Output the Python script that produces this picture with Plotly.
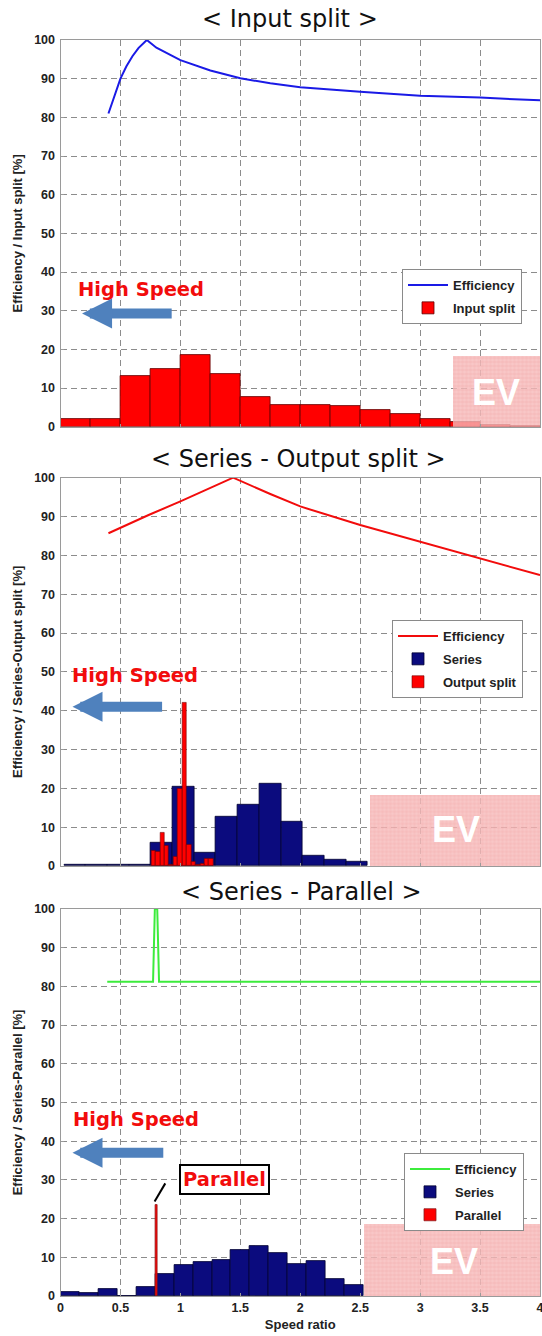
import plotly.graph_objects as go

# ---------------- DATA ----------------
# Panel 1 : Input split
eff1_x = [0.40, 0.45, 0.50, 0.55, 0.60, 0.65, 0.72, 0.80, 0.90, 1.00, 1.25, 1.50, 1.75, 2.00, 2.50, 3.00, 3.50, 4.00]
eff1_y = [81.0, 85.8, 90.0, 93.2, 95.8, 97.9, 100.0, 98.0, 96.3, 94.8, 92.1, 90.1, 88.8, 87.8, 86.6, 85.6, 85.1, 84.4]
input_edges = [0.0, 0.25, 0.5, 0.75, 1.0, 1.25, 1.5, 1.75, 2.0, 2.25, 2.5, 2.75, 3.0, 3.25, 3.5, 3.75, 4.0]
input_vals = [1.9, 2.1, 13.0, 14.8, 18.5, 13.6, 7.6, 5.6, 5.6, 5.3, 4.2, 3.3, 1.9, 1.2, 0.4, 0.1]

# Panel 2 : Series - Output split
eff2_x = [0.40, 0.735, 1.00, 1.44, 1.75, 2.00, 2.50, 3.00, 3.50, 4.00]
eff2_y = [85.7, 90.4, 93.9, 100.0, 95.8, 92.6, 87.8, 83.5, 79.2, 74.9]
series2_edges = [0.03, 0.211, 0.392, 0.573, 0.754, 0.935, 1.116, 1.297, 1.478, 1.659, 1.840, 2.021, 2.202, 2.383, 2.564]
series2_vals = [0.4, 0.4, 0.4, 0.4, 6.0, 20.3, 3.5, 12.6, 15.8, 21.1, 11.3, 2.7, 1.6, 1.2]
outsplit_edges = [0.757, 0.794, 0.831, 0.868, 0.905, 0.942, 0.979, 1.016, 1.053, 1.090, 1.127, 1.164, 1.201, 1.238, 1.275]
outsplit_vals = [4.0, 3.8, 8.5, 5.3, 0.4, 2.3, 20.0, 42.0, 5.4, 1.2, 0.4, 0.5, 1.8, 1.8]

# Panel 3 : Series - Parallel
eff3_x = [0.39, 0.772, 0.787, 0.807, 0.822, 4.0]
eff3_y = [81.2, 81.2, 100.0, 100.0, 81.2, 81.2]
series3_edges = [0.0, 0.158, 0.316, 0.474, 0.632, 0.790, 0.948, 1.106, 1.264, 1.422, 1.580, 1.738, 1.896, 2.054, 2.212, 2.370, 2.528]
series3_vals = [1.0, 0.7, 1.8, 0.0, 2.2, 5.6, 7.9, 8.9, 9.3, 12.0, 12.9, 11.1, 8.3, 9.1, 4.5, 2.9]
parallel_x = [0.80]
parallel_vals = [23.4]

# EV regions (start speed ratio, height) per panel
ev_start = [3.27, 2.58, 2.53]
ev_end = 4.0
ev_height = [18.2, 18.4, 18.5]

titles = ["< Input split >", "< Series - Output split >", "< Series - Parallel >"]
ytitles = ["Efficiency / Input split [%]", "Efficiency / Series-Output split [%]", "Efficiency / Series-Parallel [%]"]
x_ticks = [0, 0.5, 1, 1.5, 2, 2.5, 3, 3.5, 4]
x_ticklabels = ["0", "0.5", "1", "1.5", "2", "2.5", "3", "3.5", "4"]
y_ticks = [0, 10, 20, 30, 40, 50, 60, 70, 80, 90, 100]

# ---------------- FIGURE ----------------
OFF = 0                      # body margin removed by post_script
W, H = 542, 1336
FONT = "Liberation Sans, Arial, sans-serif"
BOLDF = "DejaVu Sans, Verdana, sans-serif"
TITLEF = "DejaVu Sans, Verdana, sans-serif"
RED = "#f20c0c"
NAVY = "#0b0b7e"


def px_x(p):
    return (p - OFF) / W


def px_y(p):
    return 1 - (p - OFF) / H


def centers(edges):
    return [(edges[i] + edges[i + 1]) / 2 for i in range(len(edges) - 1)]


def widths(edges):
    return [edges[i + 1] - edges[i] for i in range(len(edges) - 1)]


fig = go.Figure()

# pixel geometry (screen px) of the three plot areas (top, bottom)
panels = [(40.0, 426.7), (477.7, 866.0), (909.0, 1296.0)]
x_dom = [px_x(60.5), min(1.0, px_x(540.0))]


def ax(i):
    return ("x" if i == 0 else f"x{i+1}", "y" if i == 0 else f"y{i+1}")


def ev_bar(i):
    xa, ya = ax(i)
    return go.Bar(x=[(ev_start[i] + ev_end) / 2], y=[ev_height[i]], width=[ev_end - ev_start[i]],
                  marker=dict(color="rgba(246,185,185,0.8)", line=dict(width=0),
                              pattern=dict(shape="+", size=4, solidity=0.25,
                                           fgcolor="rgba(232,115,115,0.6)", fillmode="overlay")),
                  showlegend=False, hoverinfo="skip", xaxis=xa, yaxis=ya)


# Panel 1
fig.add_trace(go.Scatter(x=eff1_x, y=eff1_y, mode="lines", line=dict(color="#1a1ae6", width=2),
                         name="Efficiency", legend="legend", legendgroup="a1", xaxis="x", yaxis="y"))
fig.add_trace(go.Bar(x=centers(input_edges), y=input_vals, width=widths(input_edges),
                     marker=dict(color="#ff0000", line=dict(color="#600000", width=0.8)),
                     name="Input split", legend="legend", legendgroup="b1", xaxis="x", yaxis="y"))
fig.add_trace(ev_bar(0))

# Panel 2
fig.add_trace(go.Scatter(x=eff2_x, y=eff2_y, mode="lines", line=dict(color=RED, width=2),
                         name="Efficiency", legend="legend2", legendgroup="a2", xaxis="x2", yaxis="y2"))
fig.add_trace(go.Bar(x=centers(series2_edges), y=series2_vals, width=widths(series2_edges),
                     marker=dict(color=NAVY, line=dict(color="#000030", width=0.8)),
                     name="Series", legend="legend2", legendgroup="b2", xaxis="x2", yaxis="y2"))
fig.add_trace(go.Bar(x=centers(outsplit_edges), y=outsplit_vals, width=widths(outsplit_edges),
                     marker=dict(color="#ff0000", line=dict(color="#700000", width=0.6)),
                     name="Output split", legend="legend2", legendgroup="c2", xaxis="x2", yaxis="y2"))
fig.add_trace(ev_bar(1))

# Panel 3
fig.add_trace(go.Scatter(x=eff3_x, y=eff3_y, mode="lines", line=dict(color="#3cec3c", width=2),
                         name="Efficiency", legend="legend3", legendgroup="a3", xaxis="x3", yaxis="y3"))
fig.add_trace(go.Bar(x=centers(series3_edges), y=series3_vals, width=widths(series3_edges),
                     marker=dict(color=NAVY, line=dict(color="#000030", width=0.8)),
                     name="Series", legend="legend3", legendgroup="b3", xaxis="x3", yaxis="y3"))
fig.add_trace(go.Bar(x=parallel_x, y=parallel_vals, width=[0.012],
                     marker=dict(color="#ff0000", line=dict(color="#8a1c1c", width=0.8)),
                     name="Parallel", legend="legend3", legendgroup="c3", xaxis="x3", yaxis="y3"))
fig.add_trace(ev_bar(2))

layout = dict(width=W, height=H, margin=dict(l=0, r=0, t=0, b=0, autoexpand=False), paper_bgcolor="white",
              plot_bgcolor="white", barmode="overlay", bargap=0, showlegend=True,
              font=dict(family=FONT, color="#111"))

axis_common = dict(showgrid=True, gridcolor="#8c8c8c", gridwidth=1, griddash="6px,4px",
                   showline=True, linecolor="#9a9a9a", linewidth=1, mirror=True, zeroline=False,
                   ticks="inside", ticklen=3, tickcolor="#9a9a9a", automargin=False)

for i in range(3):
    top, bot = panels[i]
    ydom = [px_y(bot), px_y(top)]
    xk = "xaxis" if i == 0 else f"xaxis{i+1}"
    yk = "yaxis" if i == 0 else f"yaxis{i+1}"
    xa, ya = ax(i)
    xdict = dict(axis_common, domain=x_dom, range=[0, 4], tickvals=x_ticks, ticktext=x_ticklabels,
                 anchor=ya, showticklabels=(i == 2), ticklabeloverflow="allow",
                 tickfont=dict(size=12.5, weight="bold", family=FONT, color="#222"))
    if i == 2:
        xdict["title"] = dict(text="Speed ratio", font=dict(size=13, weight="bold", family=FONT, color="#222"),
                              standoff=5)
    layout[xk] = xdict
    layout[yk] = dict(axis_common, domain=ydom, range=[0, 100], tickvals=y_ticks, anchor=xa,
                      tickfont=dict(size=12.5, weight="bold", family=FONT, color="#222"),
                      ticklabelstandoff=2,
                      title=dict(text=ytitles[i], font=dict(size=13, weight="bold", family=FONT, color="#222"),
                                 standoff=8))

legend_pos = [(402, 269), (392, 620), (404, 1153)]
for i, (lx, ly) in enumerate(legend_pos):
    k = "legend" if i == 0 else f"legend{i+1}"
    layout[k] = dict(x=px_x(lx), y=px_y(ly), xanchor="left", yanchor="top", bgcolor="white",
                     bordercolor="#8a8a8a", borderwidth=1, tracegroupgap=3, itemwidth=40,
                     font=dict(size=13, weight="bold", family=FONT, color="#222"))

annotations = []
# (center x px, y px, anchor)
title_pos = [(290, 3, "top"), (298, 459, "middle"), (301, 892, "middle")]
for i, (tx, ty, anc) in enumerate(title_pos):
    annotations.append(dict(text=titles[i], x=px_x(tx), y=px_y(ty), xref="paper", yref="paper",
                            xanchor="center", yanchor=anc, showarrow=False,
                            font=dict(size=24, family=TITLEF, color="#111")))

hs_text = [(0.67, 35.4), (0.62, 49.1), (0.63, 45.5)]
hs_arrow = [(0.18, 0.94, 29.3), (0.10, 0.86, 41.0), (0.10, 0.87, 37.0)]
ev_text = [(3.63, 8.8), (3.30, 9.5), (3.28, 9.0)]
for i in range(3):
    xa, ya = ax(i)
    annotations.append(dict(text="High Speed", x=hs_text[i][0], y=hs_text[i][1], xref=xa, yref=ya,
                            showarrow=False, font=dict(size=19.5, weight="bold", family=BOLDF, color=RED)))
    tip, tail, yy = hs_arrow[i]
    annotations.append(dict(text="", x=tip, y=yy, ax=tail, ay=yy, xref=xa, yref=ya, axref=xa, ayref=ya,
                            showarrow=True, arrowhead=2, arrowsize=0.6, arrowwidth=10,
                            arrowcolor="#4f81bd", standoff=0, startstandoff=0))
    annotations.append(dict(text="EV", x=ev_text[i][0], y=ev_text[i][1], xref=xa, yref=ya, showarrow=False,
                            font=dict(size=36, weight="bold", family=FONT, color="white")))

# Parallel callout
annotations.append(dict(text="Parallel", x=1.37, y=30.0, xref="x3", yref="y3", showarrow=False,
                        font=dict(size=19.5, weight="bold", family=BOLDF, color=RED),
                        bordercolor="black", borderwidth=2, borderpad=2, bgcolor="white"))
layout["annotations"] = annotations
layout["shapes"] = [dict(type="line", xref="x3", yref="y3", x0=0.785, y0=24.4, x1=0.874, y1=29.1,
                         line=dict(color="black", width=2))]

fig.update_layout(**layout)
fig.write_html("out.html", config={"displayModeBar": False},
               post_script="document.body.style.margin='0';document.body.style.overflow='hidden';")
